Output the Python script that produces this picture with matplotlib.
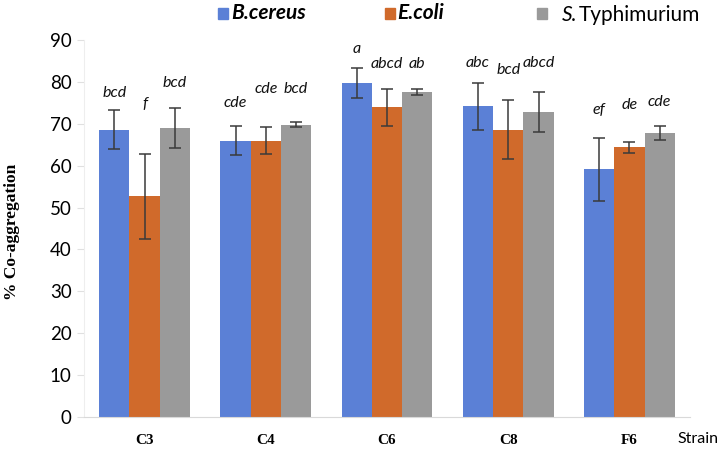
import matplotlib
matplotlib.use("Agg")
import matplotlib.pyplot as plt
import numpy as np
from matplotlib.patches import Rectangle

strains = ["C3", "C4", "C6", "C8", "F6"]
series = ["B.cereus", "E.coli", "S. Typhimurium"]
bcereus = [68.6, 66.0, 79.8, 74.2, 59.1]
ecoli = [52.7, 66.0, 73.9, 68.6, 64.4]
styph = [69.0, 69.8, 77.6, 72.9, 67.8]
bcereus_err = [4.6, 3.4, 3.6, 5.6, 7.6]
ecoli_err = [10.1, 3.3, 4.5, 7.0, 1.3]
styph_err = [4.8, 0.6, 0.8, 4.8, 1.6]
bcereus_letters = ["bcd", "cde", "a", "abc", "ef"]
ecoli_letters = ["f", "cde", "abcd", "bcd", "de"]
styph_letters = ["bcd", "bcd", "ab", "abcd", "cde"]
bcereus_letter_y = [77.4, 75.0, 87.9, 84.5, 73.2]
ecoli_letter_y = [74.8, 78.3, 84.3, 82.9, 74.4]
styph_letter_y = [79.7, 78.3, 84.3, 84.5, 75.1]
yticks = [0, 10, 20, 30, 40, 50, 60, 70, 80, 90]

colors = ["#5B80D6", "#D06A2B", "#9A9A9A"]
sans = ["Lato", "DejaVu Sans"]

fig = plt.figure(figsize=(7.22, 4.51), dpi=100)
ax = fig.add_axes([84/722, 1-417/451, (690-84)/722, (417-40)/451])

x = np.arange(len(strains))
w = 0.25
vals = [bcereus, ecoli, styph]
errs = [bcereus_err, ecoli_err, styph_err]
letters = [bcereus_letters, ecoli_letters, styph_letters]
lys = [bcereus_letter_y, ecoli_letter_y, styph_letter_y]
for i in range(3):
    xi = x + (i - 1) * w
    ax.bar(xi, vals[i], width=w, color=colors[i], edgecolor="none", zorder=2)
    ax.errorbar(xi, vals[i], yerr=errs[i], fmt="none", ecolor="#3a3a3a",
                elinewidth=1.1, capsize=4, capthick=1.1, zorder=3)
    for xx, yy, t in zip(xi, lys[i], letters[i]):
        ax.text(xx, yy, t, ha="center", va="center", fontsize=11.5,
                style="italic", family=sans, color="#111111")

ax.set_xlim(-0.5, len(strains) - 0.5)
ax.set_ylim(0, 90)
ax.set_yticks(yticks)
ax.set_yticklabels([str(v) for v in yticks], fontsize=13.5, family=sans)
ax.set_xticks(x)
ax.set_xticklabels(strains, fontsize=11, family="Liberation Serif", fontweight="bold")
ax.tick_params(axis="x", length=0, pad=12)
ax.tick_params(axis="y", length=5, color="#e0e0e0", pad=4)
for s in ["top", "right"]:
    ax.spines[s].set_visible(False)
ax.spines["left"].set_color("#eeeeee")
ax.spines["bottom"].set_color("#d9d9d9")
ax.set_ylabel("% Co-aggregation", family="Liberation Serif", fontweight="bold",
              fontsize=12.5)
ax.yaxis.set_label_coords(-0.106, 0.49)
fig.text(677/722, 1-439/451, "Strain", fontsize=11.5, family=sans,
         va="center", ha="left")

# legend
def sq(xp, c):
    fig.patches.append(Rectangle((xp/722, 1-19/451), 10/722, 11/451,
                                 transform=fig.transFigure, color=c))
sq(218, colors[0]); sq(385, colors[1]); sq(537, colors[2])
fig.text(231/722, 1-13/451, "B.cereus", fontsize=15, family=sans,
         style="italic", fontweight="bold", va="center")
fig.text(397/722, 1-13/451, "E.coli", fontsize=15, family=sans,
         style="italic", fontweight="bold", va="center")
fig.text(562/722, 1-15/451, "S.", fontsize=15, family=sans,
         style="italic", va="center")
fig.text(579/722, 1-15/451, "Typhimurium", fontsize=15, family=sans,
         va="center")

fig.savefig("out.png", dpi=100)
